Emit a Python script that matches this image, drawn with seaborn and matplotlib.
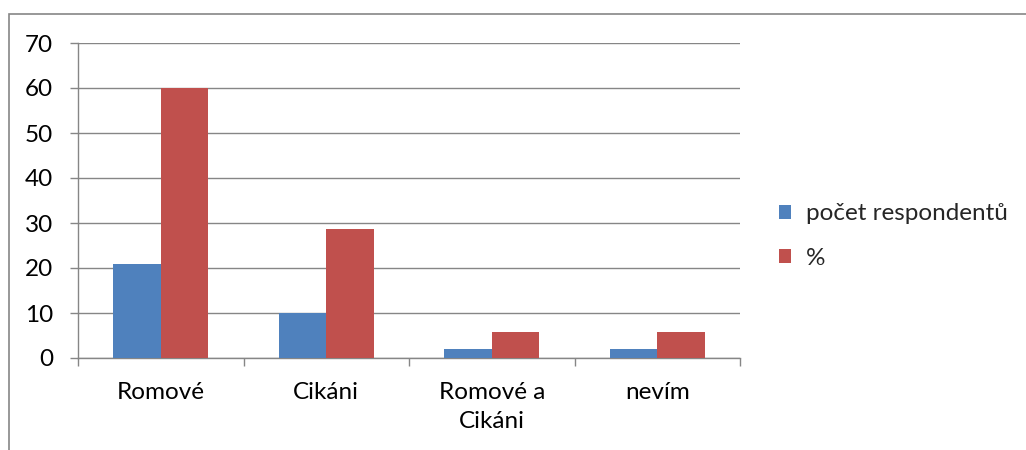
import matplotlib
matplotlib.use("Agg")
import matplotlib.pyplot as plt
import matplotlib.patches as mpatches
import seaborn as sns
import pandas as pd

categories = ["Romové", "Cikáni", "Romové a\nCikáni", "nevím"]
respondents = [21, 10, 2, 2]
percent = [60, 28.6, 5.7, 5.7]
series_names = ["počet respondentů", "%"]
y_ticks = [0, 10, 20, 30, 40, 50, 60, 70]

df = pd.DataFrame({
    "kategorie": categories * 2,
    "hodnota": respondents + percent,
    "řada": [series_names[0]] * len(categories) + [series_names[1]] * len(categories),
})

sns.set_theme(style="white")
plt.rcParams["font.family"] = ["Lato", "DejaVu Sans"]

fig = plt.figure(figsize=(10.26, 4.5), dpi=100)
ax = fig.add_axes([78 / 1026, 1 - 358 / 450, (740 - 78) / 1026, (358 - 43) / 450])

palette = {series_names[0]: "#4F81BD", series_names[1]: "#C0504D"}
sns.barplot(data=df, x="kategorie", y="hodnota", hue="řada", order=categories,
            hue_order=series_names, palette=palette, width=2 / 3.5,
            saturation=1, edgecolor="none", linewidth=0, ax=ax, zorder=3)

grey = "#868686"
ax.set_xlim(-0.5, len(categories) - 0.5)
ax.set_ylim(0, 70)
ax.set_yticks(y_ticks)
ax.yaxis.grid(True, color=grey, linewidth=1)
ax.set_axisbelow(True)
ax.set_xlabel("")
ax.set_ylabel("")

for side in ["top", "right"]:
    ax.spines[side].set_visible(False)
for side in ["left", "bottom"]:
    ax.spines[side].set_color(grey)
    ax.spines[side].set_linewidth(1)

# category ticks sit on the boundaries between groups
ax.set_xticks([i - 0.5 for i in range(len(categories) + 1)], minor=True)
ax.set_xticks(range(len(categories)))
ax.set_xticklabels(categories)
ax.tick_params(axis="x", which="major", length=0, pad=17, labelsize=17.5, colors="black")
ax.tick_params(axis="x", which="minor", length=6, width=1, color=grey, direction="out", bottom=True)
ax.tick_params(axis="y", length=6, width=1, color=grey, direction="out", left=True,
               pad=12, labelsize=17.5, labelcolor="black")
for lbl in ax.get_xticklabels():
    lbl.set_verticalalignment("top")
    lbl.set_linespacing(1.5)

handles, labels = ax.get_legend_handles_labels()
ax.legend(handles, labels, loc="center left", bbox_to_anchor=(757 / 1026, 1 - 236 / 450),
          bbox_transform=fig.transFigure, frameon=False, fontsize=17.5,
          handlelength=0.5, handleheight=0.5, handletextpad=0.6, labelspacing=0.95)

# chart frame
fig.patches.append(mpatches.Rectangle((8.5 / 1026, -0.1), 1.2, 1.1 - 13.5 / 450,
                                      transform=fig.transFigure, fill=False,
                                      edgecolor=grey, linewidth=1.2))

fig.savefig("out.png", dpi=100)
